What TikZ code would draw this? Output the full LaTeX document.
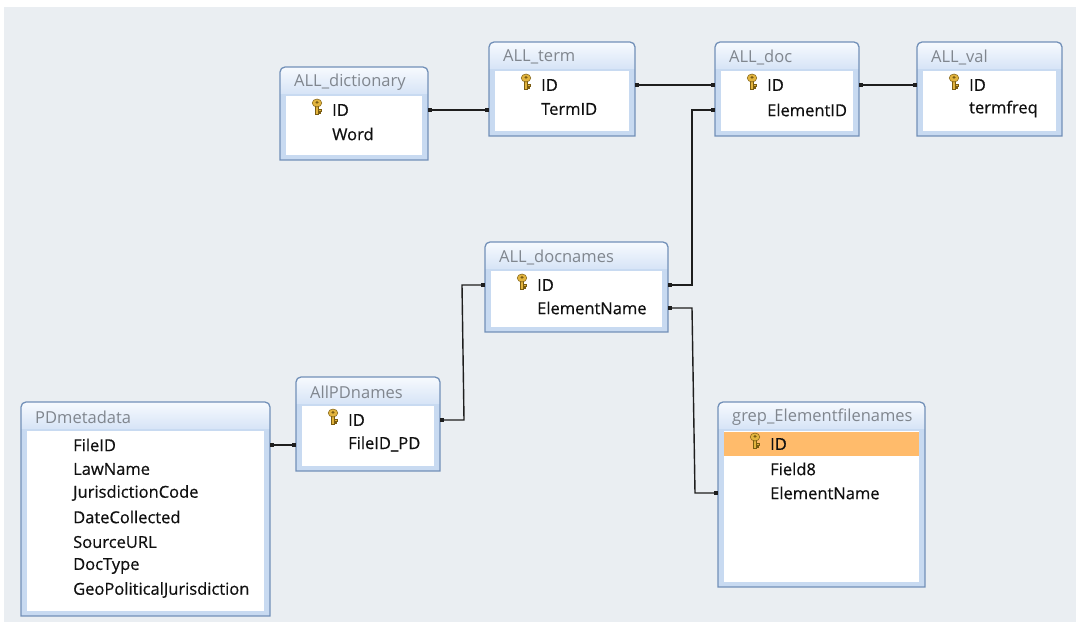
\documentclass[tikz,border=0pt]{standalone}
\usepackage{fontspec}
\setmainfont{Open Sans}
\newfontfamily\fieldface[FakeBold=0.5]{Open Sans}
\usetikzlibrary{arrows.meta,fit}

\definecolor{canvasbg}{HTML}{EAEEF2}
\definecolor{tbledge}{HTML}{7290B8}
\definecolor{bodyblue}{HTML}{C8DAF1}
\definecolor{titletop}{HTML}{F7FAFE}
\definecolor{titlebot}{HTML}{D5E3F6}
\definecolor{titletext}{HTML}{80868E}
\definecolor{fieldtext}{HTML}{101010}
\definecolor{linkcol}{HTML}{1E1E1E}
\definecolor{pkrow}{HTML}{FFBB6B}
\definecolor{keygold}{HTML}{E2B43E}
\definecolor{keyedge}{HTML}{7A5C12}

\newcommand\fieldfont{\fieldface\fontsize{16.5}{18}\selectfont}
\newcommand\captionfont{\fontsize{16.5}{18}\selectfont}

\tikzset{
  tblborder/.style={draw=tbledge, line width=1.3pt},
  field/.style={anchor=west, inner sep=0pt, font=\fieldfont, text=fieldtext},
  ttl/.style={anchor=west, inner sep=0pt, font=\captionfont, text=titletext},
  link/.style={draw=linkcol, line width=1.4pt,
    {Square[length=3.6pt,width=4pt]}-{Square[length=3.6pt,width=4pt]}},
  dbkey/.pic={
    \filldraw[fill=keygold, draw=keyedge, line width=0.5pt] (-1.6,-1) rectangle (1.6,7);
    \filldraw[fill=keygold, draw=keyedge, line width=0.5pt] (1.6,2.4) rectangle (3.8,4);
    \filldraw[fill=keygold, draw=keyedge, line width=0.5pt] (1.6,5.2) rectangle (3.3,6.7);
    \filldraw[fill=keygold, draw=keyedge, line width=0.5pt] (0,-4) ellipse [x radius=4.8, y radius=4];
    \fill[keyedge] (0,-4.6) ellipse [x radius=1.7, y radius=1.3];
  }
}

% table frame: #1 name, #2 left, #3 top, #4 right, #5 bottom, #6 caption
\newcommand\dbtable[6]{%
  \path[top color=titletop, bottom color=titlebot]
    (#2,#3+28) -- (#2,#3+5) arc[start angle=180,end angle=270,radius=5]
    -- (#4-5,#3) arc[start angle=270,end angle=360,radius=5] -- (#4,#3+28) -- cycle;
  \fill[bodyblue] (#2,#3+27) rectangle (#4,#5);
  \fill[white] (#2+6,#3+29) rectangle (#4-6,#5-5);
  \draw[tblborder] (#2,#5) -- (#2,#3+5) arc[start angle=180,end angle=270,radius=5]
    -- (#4-5,#3) arc[start angle=270,end angle=360,radius=5] -- (#4,#5) -- cycle;
  \node[fit={(#2,#3) (#4,#5)}, inner sep=0pt] (#1) {};
  \node[ttl] (#1-title) at (#2+14,#3+15) {#6};
}
% field row: #1 table, #2 row name, #3 table left, #4 row centre, #5 text
\newcommand\dbfield[5]{%
  \node[field] (#1-#2) at (#3+52,#4) {#5};
}
\newcommand\dbkeyfield[5]{%
  \pic at (#3+37,#4-3) {dbkey};
  \node[field] (#1-#2) at (#3+52,#4) {#5};
}

\begin{document}
\begin{tikzpicture}[x=1pt,y=-1pt]
\useasboundingbox (0,0) rectangle (1076,622);
\fill[canvasbg] (4,7) rectangle (1076,622);

% ALL_dictionary
\dbtable{dict}{280}{67}{428}{160}{ALL\_dictionary}
\dbkeyfield{dict}{ID}{280}{110}{ID}
\dbfield{dict}{Word}{280}{134}{Word}

% ALL_term
\dbtable{term}{489}{42}{635}{136}{ALL\_term}
\dbkeyfield{term}{ID}{489}{85}{ID}
\dbfield{term}{TermID}{489}{109}{TermID}

% ALL_doc
\dbtable{doc}{715}{42}{859}{136}{ALL\_doc}
\dbkeyfield{doc}{ID}{715}{85}{ID}
\dbfield{doc}{ElementID}{715}{110}{ElementID}

% ALL_val
\dbtable{val}{917}{42}{1062}{136}{ALL\_val}
\dbkeyfield{val}{ID}{917}{85}{ID}
\dbfield{val}{termfreq}{917}{109}{termfreq}

% ALL_docnames
\dbtable{docn}{485}{242}{668}{332}{ALL\_docnames}
\dbkeyfield{docn}{ID}{485}{285}{ID}
\dbfield{docn}{ElementName}{485}{308}{ElementName}

% AllPDnames
\dbtable{pdn}{296}{377}{440}{471}{AllPDnames}
\dbkeyfield{pdn}{ID}{296}{420}{ID}
\dbfield{pdn}{FileIDPD}{296}{444}{FileID\_PD}

% PDmetadata
\dbtable{pdm}{21}{402}{270}{616}{PDmetadata}
\dbfield{pdm}{FileID}{21}{445}{FileID}
\dbfield{pdm}{LawName}{21}{469}{LawName}
\dbfield{pdm}{JurisdictionCode}{21}{493}{JurisdictionCode}
\dbfield{pdm}{DateCollected}{21}{517}{DateCollected}
\dbfield{pdm}{SourceURL}{21}{542}{SourceURL}
\dbfield{pdm}{DocType}{21}{566}{DocType}
\dbfield{pdm}{GeoPoliticalJurisdiction}{21}{590}{GeoPoliticalJurisdiction}

% grep_Elementfilenames (primary key row selected)
\dbtable{grep}{718}{402}{925}{587}{grep\_Elementfilenames}
\fill[pkrow] (724,432) rectangle (919,456);
\dbkeyfield{grep}{ID}{718}{444}{ID}
\dbfield{grep}{Field8}{718}{469}{Field8}
\dbfield{grep}{ElementName}{718}{493}{ElementName}

% relationship lines
\coordinate (bendA) at (692,200);
\coordinate (bendB1) at (692,400);
\coordinate (bendB2) at (695,400);
\coordinate (bendC1) at (464,350);
\coordinate (bendC2) at (462,350);

\draw[link] (dict.east |- dict-ID) -- (term.west |- dict-ID);
\draw[link] (term.east |- term-ID) -- (doc.west |- doc-ID);
\draw[link] (doc.east |- doc-ID) -- (val.west |- val-ID);
\draw[link] (docn.east |- docn-ID) -- (bendA |- docn-ID)
  -- (bendA |- doc-ElementID) -- (doc.west |- doc-ElementID);
\draw[link] (docn.east |- docn-ElementName) -- (bendB1 |- docn-ElementName)
  -- (bendB2 |- grep-ElementName) -- (grep.west |- grep-ElementName);
\draw[link] (pdn.east |- pdn-ID) -- (bendC1 |- pdn-ID)
  -- (bendC2 |- docn-ID) -- (docn.west |- docn-ID);
\draw[link] (pdm.east |- pdm-FileID) -- (pdn.west |- pdm-FileID);
\end{tikzpicture}
\end{document}
